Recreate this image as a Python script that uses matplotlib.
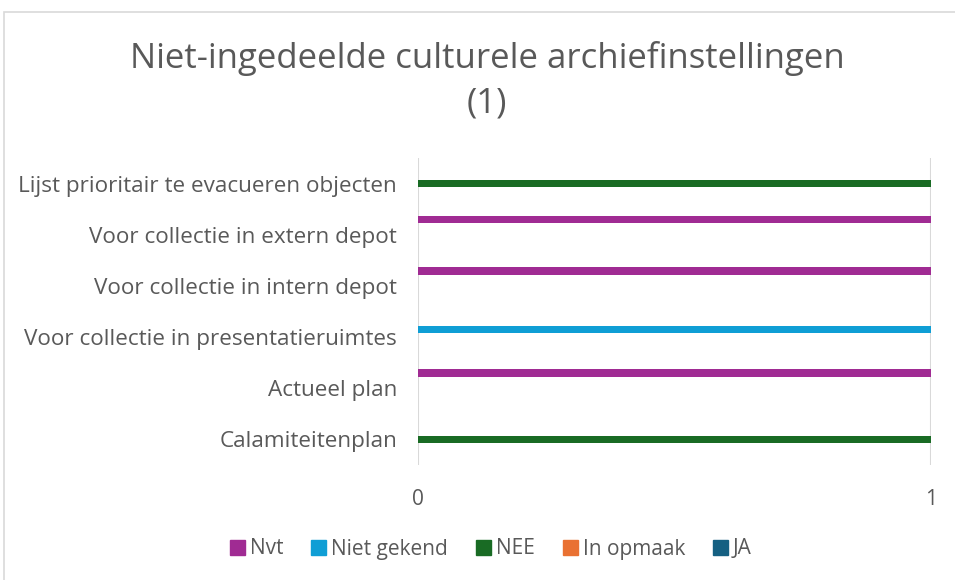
import numpy as np
import matplotlib
matplotlib.use("Agg")
import matplotlib.pyplot as plt
import matplotlib.patches as mpatches

# categories bottom -> top
categories = [
    "Calamiteitenplan",
    "Actueel plan",
    "Voor collectie in presentatieruimtes",
    "Voor collectie in intern depot",
    "Voor collectie in extern depot",
    "Lijst prioritair te evacueren objecten",
]
series_names = ["Nvt", "Niet gekend", "NEE", "In opmaak", "JA"]
series_colors = ["#a02b93", "#0f9ed5", "#196b24", "#e97132", "#156082"]
nvt = [0, 1, 0, 1, 1, 0]
niet_gekend = [0, 0, 1, 0, 0, 0]
nee = [1, 0, 0, 0, 0, 1]
in_opmaak = [0, 0, 0, 0, 0, 0]
ja = [0, 0, 0, 0, 0, 0]
values = [nvt, niet_gekend, nee, in_opmaak, ja]
x_ticks = [0, 1]

plt.rcParams["font.family"] = ["Open Sans", "DejaVu Sans"]
TXT = "#595959"

fig = plt.figure(figsize=(9.55, 5.8), dpi=100)
fig.patches.append(mpatches.Rectangle((4 / 955, -0.1), 1.1, 1.1 - 12 / 580, transform=fig.transFigure,
                                      fill=False, edgecolor="#d9d9d9", lw=1.2))
ax = fig.add_axes([418 / 955, 1 - 465 / 580, (931 - 418) / 955, (465 - 158) / 580])

y = np.arange(len(categories))
h = 0.148
for j, (name, vals, col) in enumerate(zip(series_names, values, series_colors)):
    ax.barh(y + (2 - j) * h, vals, height=h, color=col, label=name, zorder=3)

ax.set_xlim(0, 1)
ax.set_ylim(-0.5, len(categories) - 0.5)
ax.set_xticks(x_ticks)
ax.set_xticklabels([str(t) for t in x_ticks], fontsize=15, color=TXT)
ax.set_yticks(y)
ax.set_yticklabels(categories, fontsize=16.2, color=TXT)
ax.tick_params(length=0, axis="y", pad=15)
ax.tick_params(length=0, axis="x", pad=17)
ax.grid(axis="x", color="#d9d9d9", lw=1.5, zorder=0)
for s in ax.spines.values():
    s.set_visible(False)

fig.text(487 / 955, 1 - 81 / 580, "Niet-ingedeelde culturele archiefinstellingen\n(1)",
         ha="center", va="center", fontsize=25, color=TXT, linespacing=1.42)

handles = [mpatches.Patch(color=c) for c in series_colors]
fig.legend(handles, series_names, loc="center", bbox_to_anchor=(491 / 955, 1 - 549 / 580),
           ncol=5, frameon=False, fontsize=15, labelcolor=TXT, handlelength=0.7,
           handleheight=0.7, handletextpad=0.25, columnspacing=1.35)

fig.savefig("out.png", dpi=100)
